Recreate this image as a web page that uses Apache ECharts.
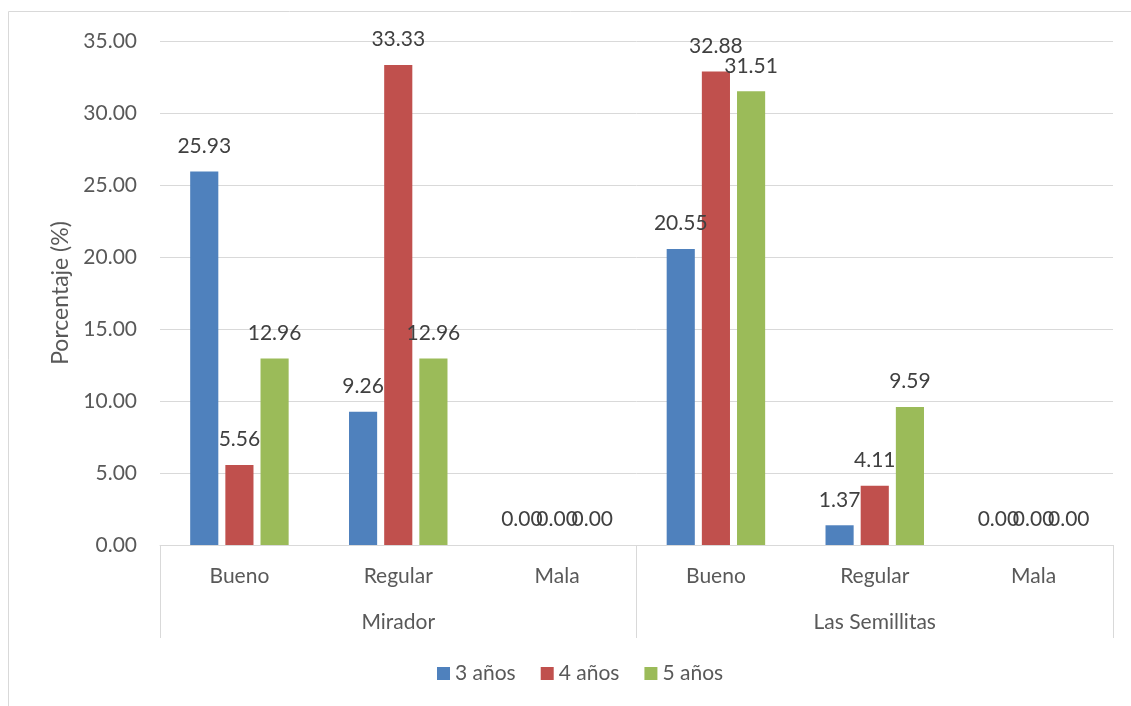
<!DOCTYPE html>
<html>
<head>
<meta charset="utf-8">
<style>
  html, body { margin: 0; padding: 0; background: #fff; }
  #chart { width: 1131px; height: 706px; }
</style>
<script src="https://cdn.jsdelivr.net/npm/echarts@6/dist/echarts.min.js"></script>
</head>
<body>
<div id="chart"></div>
<script>
// categories
const levels = ['Bueno', 'Regular', 'Mala', 'Bueno', 'Regular', 'Mala']
const groups = ['Mirador', 'Las Semillitas']
const seriesNames = ['3 años', '4 años', '5 años']

// values (%)
const anios3 = [25.93, 9.26, 0.0, 20.55, 1.37, 0.0]
const anios4 = [5.56, 33.33, 0.0, 32.88, 4.11, 0.0]
const anios5 = [12.96, 12.96, 0.0, 31.51, 9.59, 0.0]

const colors = ['#4f81bd', '#c0504d', '#9bbb59']
const font = 'Lato, Carlito, Calibri, sans-serif'

const chart = echarts.init(document.getElementById('chart'))

function makeSeries(name, data, color) {
  return {
    name: name,
    type: 'bar',
    data: data,
    xAxisIndex: 0,
    barGap: '25%',
    barCategoryGap: '38%',
    itemStyle: { color: color },
    label: {
      show: true,
      position: 'top',
      distance: 15,
      fontFamily: font,
      fontSize: 21,
      color: '#404040',
      formatter: p => p.value.toFixed(2)
    }
  }
}

chart.setOption({
  animation: false,
  textStyle: { fontFamily: font },
  graphic: [{
    type: 'rect',
    shape: { x: 8.5, y: 11.5, width: 1140, height: 720 },
    style: { fill: 'none', stroke: '#d9d9d9', lineWidth: 1 },
    silent: true
  }],
  grid: { left: 160, right: 18, top: 41, bottom: 161 },
  legend: {
    data: seriesNames,
    bottom: 17,
    left: 432,
    icon: 'rect',
    itemWidth: 13,
    itemHeight: 13,
    itemGap: 25,
    textStyle: { fontFamily: font, fontSize: 21, color: '#595959' }
  },
  xAxis: [
    {
      type: 'category',
      data: levels,
      position: 'bottom',
      axisLine: { show: true, lineStyle: { color: '#d9d9d9' } },
      axisTick: { show: false },
      axisLabel: { margin: 21, fontFamily: font, fontSize: 21, color: '#595959', interval: 0 }
    },
    {
      type: 'category',
      data: groups,
      position: 'bottom',
      axisLine: { show: false },
      axisTick: { show: true, length: 93, interval: 0, lineStyle: { color: '#d9d9d9' } },
      axisLabel: { margin: 67, fontFamily: font, fontSize: 21, color: '#595959', interval: 0 }
    }
  ],
  yAxis: {
    type: 'value',
    min: 0,
    max: 35,
    interval: 5,
    name: 'Porcentaje (%)',
    nameLocation: 'middle',
    nameGap: 87,
    nameTextStyle: { fontFamily: font, fontSize: 23, color: '#595959' },
    axisLine: { show: false },
    axisTick: { show: false },
    axisLabel: {
      margin: 23,
      fontFamily: font,
      fontSize: 21,
      color: '#595959',
      formatter: v => v.toFixed(2)
    },
    splitLine: { lineStyle: { color: '#d9d9d9' } }
  },
  series: [
    makeSeries(seriesNames[0], anios3, colors[0]),
    makeSeries(seriesNames[1], anios4, colors[1]),
    makeSeries(seriesNames[2], anios5, colors[2])
  ]
})
</script>
</body>
</html>
